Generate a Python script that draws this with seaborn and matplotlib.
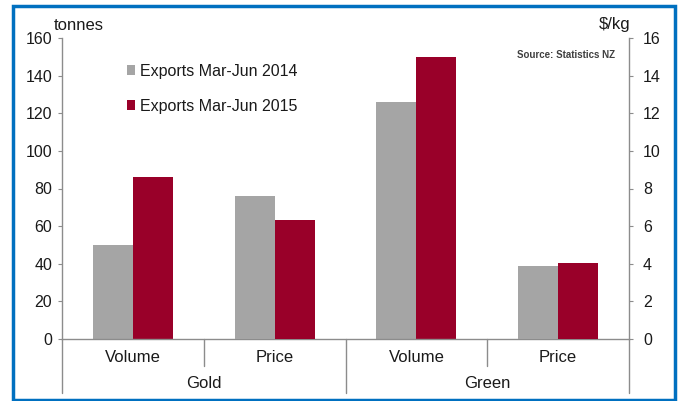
import matplotlib
matplotlib.use("Agg")
import matplotlib.pyplot as plt
import matplotlib.transforms as mtransforms
from matplotlib.patches import Rectangle
import seaborn as sns
import pandas as pd

# ---- data ----
groups = ["Gold", "Gold", "Green", "Green"]
measures = ["Volume", "Price", "Volume", "Price"]
categories = ["Gold Volume", "Gold Price", "Green Volume", "Green Price"]
series = ["Exports Mar-Jun 2014", "Exports Mar-Jun 2015"]
volume_2014 = [50, 126]      # tonnes (Gold, Green)
volume_2015 = [86, 150]
price_2014 = [7.6, 3.9]      # $/kg (Gold, Green)
price_2015 = [6.3, 4.05]
left_ticks = [0, 20, 40, 60, 80, 100, 120, 140, 160]
right_ticks = [0, 2, 4, 6, 8, 10, 12, 14, 16]

colors = ["#a5a5a5", "#990029"]

vol_df = pd.DataFrame({
    "cat": ["Gold Volume", "Green Volume"] * 2,
    "series": [series[0]] * 2 + [series[1]] * 2,
    "value": volume_2014 + volume_2015,
})
price_df = pd.DataFrame({
    "cat": ["Gold Price", "Green Price"] * 2,
    "series": [series[0]] * 2 + [series[1]] * 2,
    "value": price_2014 + price_2015,
})

sns.set_style("white")
plt.rcParams["font.family"] = ["Liberation Sans", "DejaVu Sans"]

fig = plt.figure(figsize=(6.83, 4.01), dpi=100)
fig.patch.set_facecolor("white")
ax = fig.add_axes([62 / 683, 62 / 401, 567 / 683, 301 / 401])
ax2 = ax.twinx()

sns.barplot(data=vol_df, x="cat", y="value", hue="series", order=categories,
            hue_order=series, palette=colors, width=0.565, gap=0,
            saturation=1, ax=ax, legend=True, edgecolor="none")
sns.barplot(data=price_df, x="cat", y="value", hue="series", order=categories,
            hue_order=series, palette=colors, width=0.565, gap=0,
            saturation=1, ax=ax2, legend=False, edgecolor="none")

for a in (ax, ax2):
    a.set_xlim(-0.5, 3.5)
    a.set_xlabel("")
    a.set_ylabel("")
    a.set_xticks([])
    for s in a.spines.values():
        s.set_visible(False)

ax.set_ylim(0, 160)
ax.set_yticks(left_ticks)
ax2.set_ylim(0, 16)
ax2.set_yticks(right_ticks)

gray = "#8c8c8c"
txt = "#1a1a1a"
ax.spines["left"].set_visible(True)
ax.spines["left"].set_color(gray)
ax.spines["bottom"].set_visible(True)
ax.spines["bottom"].set_color(gray)
ax2.spines["right"].set_visible(True)
ax2.spines["right"].set_color(gray)
for s in ("left", "bottom"):
    ax.spines[s].set_linewidth(1.0)
ax2.spines["right"].set_linewidth(1.0)

ax.tick_params(axis="y", direction="out", length=3, width=0.8, color=gray,
               labelsize=11.5, pad=4, labelcolor=txt, left=True)
ax2.tick_params(axis="y", direction="out", length=3, width=0.8, color=gray,
                labelsize=11.5, pad=7, labelcolor=txt, right=True)

# category axis labels and dividers
trans = mtransforms.blended_transform_factory(ax.transData, ax.transAxes)
for i, m in enumerate(measures):
    ax.text(i, -0.062, m, transform=trans, ha="center", va="center",
            fontsize=12, color=txt)
for g, xc in (("Gold", 0.5), ("Green", 2.5)):
    ax.text(xc, -0.147, g, transform=trans, ha="center", va="center",
            fontsize=12, color=txt)
for xd in (-0.5, 1.5, 3.5):
    ax.plot([xd, xd], [0, -0.18], transform=trans, color=gray, lw=1.0,
            clip_on=False)
for xd in (0.5, 2.5):
    ax.plot([xd, xd], [0, -0.09], transform=trans, color=gray, lw=1.0,
            clip_on=False)

# legend
handles, labels = ax.get_legend_handles_labels()
ax.legend(handles, labels, loc="upper left", bbox_to_anchor=(0.103, 0.935),
          frameon=False, fontsize=11.5, handlelength=0.5, handleheight=0.55,
          handletextpad=0.3, labelspacing=1.25, borderaxespad=0)
for t in ax.get_legend().get_texts():
    t.set_color(txt)

# units and source
fig.text(79 / 683, 1 - 25 / 401, "tonnes", ha="center", va="center",
         fontsize=12, color=txt)
fig.text(615 / 683, 1 - 25 / 401, "$/kg", ha="center", va="center",
         fontsize=12, color=txt)
fig.text(615 / 683, 1 - 55 / 401, "Source: Statistics NZ", ha="right",
         va="center", fontsize=7, fontweight="bold", color="#404040")

# blue border
fig.patches.append(Rectangle((13 / 683, 1.5 / 401), 662 / 683, 394 / 401,
                             transform=fig.transFigure, fill=False,
                             edgecolor="#0070c0", lw=2.5))

fig.savefig("out.png", dpi=100, facecolor="white")
